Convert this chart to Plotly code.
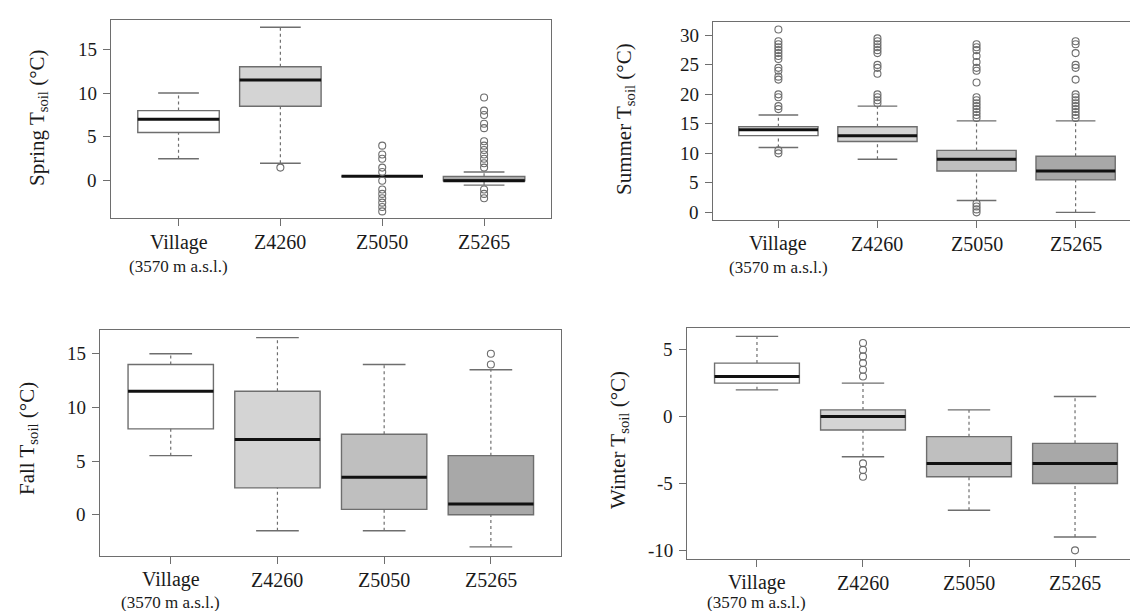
import plotly.graph_objects as go

W, H = 1138, 611
categories = ["Village", "Z4260", "Z5050", "Z5265"]
fills = ["#ffffff", "#d4d4d4", "#bfbfbf", "#a8a8a8"]

# ---- Spring ----
spring_lower = [2.5, 2.0, 0.5, -0.5]
spring_q1 = [5.5, 8.5, 0.5, 0.0]
spring_median = [7.0, 11.5, 0.5, 0.0]
spring_q3 = [8.0, 13.0, 0.5, 0.5]
spring_upper = [10.0, 17.5, 0.5, 1.0]
spring_outliers = [
    [],
    [1.5],
    [4, 3, 2.5, 1.5, 1, 0, -1, -1.5, -2, -2.5, -3, -3.5],
    [9.5, 8, 7.5, 6.5, 6, 4.5, 4, 3.5, 3, 2.5, 2, 1.5, -1, -1.5, -2],
]
spring_ticks = [0, 5, 10, 15]

# ---- Summer ----
summer_lower = [11.0, 9.0, 2.0, 0.0]
summer_q1 = [13.0, 12.0, 7.0, 5.5]
summer_median = [14.0, 13.0, 9.0, 7.0]
summer_q3 = [14.5, 14.5, 10.5, 9.5]
summer_upper = [16.5, 18.0, 15.5, 15.5]
summer_outliers = [
    [31, 29, 28.5, 28, 27.5, 27, 26.5, 26, 24.5, 24, 23, 22.5, 20, 19.5, 18, 17.5, 10.5, 10],
    [29.5, 29, 28.5, 28, 27.5, 27, 25, 24.5, 23.5, 20, 19.5, 19, 18.5],
    [28.5, 28, 27.5, 26.5, 25.5, 24.5, 24, 22, 19.5, 19, 18.5, 18, 17.5, 17, 16.5, 16, 1.5, 1, 0.5, 0],
    [29, 28.5, 27, 25, 24.5, 22.5, 20, 19.5, 19, 18.5, 18, 17.5, 17, 16.5, 16],
]
summer_ticks = [0, 5, 10, 15, 20, 25, 30]

# ---- Fall ----
fall_lower = [5.5, -1.5, -1.5, -3.0]
fall_q1 = [8.0, 2.5, 0.5, 0.0]
fall_median = [11.5, 7.0, 3.5, 1.0]
fall_q3 = [14.0, 11.5, 7.5, 5.5]
fall_upper = [15.0, 16.5, 14.0, 13.5]
fall_outliers = [[], [], [], [15, 14]]
fall_ticks = [0, 5, 10, 15]

# ---- Winter ----
winter_lower = [2.0, -3.0, -7.0, -9.0]
winter_q1 = [2.5, -1.0, -4.5, -5.0]
winter_median = [3.0, 0.0, -3.5, -3.5]
winter_q3 = [4.0, 0.5, -1.5, -2.0]
winter_upper = [6.0, 2.5, 0.5, 1.5]
winter_outliers = [[], [5.5, 5, 4.5, 4, 3.5, 3, -3.5, -4, -4.5], [], [-10]]
winter_ticks = [-10, -5, 0, 5]

village_note = "(3570 m a.s.l.)"

FONT = "'Times New Roman', 'Liberation Serif', serif"
LINE = "#6e6e6e"
TXT = "#1a1a1a"

panels = [
    dict(name="Spring", lo=spring_lower, q1=spring_q1, med=spring_median, q3=spring_q3, up=spring_upper,
         out=spring_outliers, ticks=spring_ticks, yr=[-4.25, 18.3],
         px=(103.3, 543.3), py=(12.3, 210.0), tx=30, ty=110),
    dict(name="Summer", lo=summer_lower, q1=summer_q1, med=summer_median, q3=summer_q3, up=summer_upper,
         out=summer_outliers, ticks=summer_ticks, yr=[-1.25, 32.27],
         px=(705.0, 1133.0), py=(14.0, 211.7), tx=617, ty=111),
    dict(name="Fall", lo=fall_lower, q1=fall_q1, med=fall_median, q3=fall_q3, up=fall_upper,
         out=fall_outliers, ticks=fall_ticks, yr=[-3.82, 17.18],
         px=(92.3, 553.3), py=(322.3, 547.7), tx=20, ty=431),
    dict(name="Winter", lo=winter_lower, q1=winter_q1, med=winter_median, q3=winter_q3, up=winter_upper,
         out=winter_outliers, ticks=winter_ticks, yr=[-10.625, 6.625],
         px=(679.0, 1137.0), py=(320.0, 550.7), tx=611, ty=432),
]

fig = go.Figure()
annotations = []

for k, p in enumerate(panels):
    idx = "" if k == 0 else str(k + 1)
    xa, ya = "x" + idx, "y" + idx
    xs = list(range(len(categories)))
    for i, c in enumerate(categories):
        fig.add_trace(go.Box(
            x=[i], q1=[p["q1"][i]], median=[p["med"][i]], q3=[p["q3"][i]],
            lowerfence=[p["q1"][i]], upperfence=[p["q3"][i]],
            width=0.8, whiskerwidth=0, fillcolor=fills[i],
            line=dict(color=LINE, width=1.4), boxpoints=False,
            xaxis=xa, yaxis=ya, showlegend=False, hoverinfo="skip"))
        fig.add_trace(go.Scatter(
            x=[i, i, None, i, i], y=[p["lo"][i], p["q1"][i], None, p["q3"][i], p["up"][i]],
            mode="lines", line=dict(color=LINE, width=1.2, dash="dot"),
            xaxis=xa, yaxis=ya, showlegend=False, hoverinfo="skip"))
        fig.add_trace(go.Scatter(
            x=[i - 0.2, i + 0.2, None, i - 0.2, i + 0.2],
            y=[p["lo"][i], p["lo"][i], None, p["up"][i], p["up"][i]],
            mode="lines", line=dict(color=LINE, width=1.4),
            xaxis=xa, yaxis=ya, showlegend=False, hoverinfo="skip"))
        fig.add_trace(go.Scatter(
            x=[i - 0.4, i + 0.4], y=[p["med"][i], p["med"][i]],
            mode="lines", line=dict(color="#111111", width=3),
            xaxis=xa, yaxis=ya, showlegend=False, hoverinfo="skip"))
        if p["out"][i]:
            fig.add_trace(go.Scatter(
                x=[i] * len(p["out"][i]), y=p["out"][i], mode="markers",
                marker=dict(symbol="circle-open", size=7, color=LINE, line=dict(width=1.1)),
                xaxis=xa, yaxis=ya, showlegend=False, hoverinfo="skip"))

    x0, x1 = p["px"]
    y0, y1 = p["py"]
    fig.update_layout({
        "xaxis" + idx: dict(
            domain=[x0 / W, x1 / W], anchor=ya, range=[-0.66, 3.66],
            tickmode="array", tickvals=xs, showticklabels=False,
            ticks="outside", ticklen=7, tickcolor=LINE, tickwidth=1.2,
            showline=True, linecolor=LINE, linewidth=1.4, mirror=True,
            showgrid=False, zeroline=False),
        "yaxis" + idx: dict(
            domain=[1 - y1 / H, 1 - y0 / H], anchor=xa, range=p["yr"],
            tickmode="array", tickvals=p["ticks"], showticklabels=False,
            ticks="outside", ticklen=7, tickcolor=LINE, tickwidth=1.2,
            showline=True, linecolor=LINE, linewidth=1.4, mirror=True,
            showgrid=False, zeroline=False),
    })
    for i, c in enumerate(categories):
        annotations.append(dict(
            text=c, x=i, xref=xa, y=1 - (y1 + 24) / H, yref="paper",
            xanchor="center", yanchor="middle", showarrow=False,
            font=dict(family=FONT, size=20, color=TXT)))
    for v in p["ticks"]:
        annotations.append(dict(
            text=str(v), x=(x0 - 12) / W, xref="paper", y=v, yref=ya,
            xanchor="right", yanchor="middle", showarrow=False,
            font=dict(family=FONT, size=19, color=TXT)))
    annotations.append(dict(
        text=p["name"] + " T<sub>soil</sub> (°C)", textangle=-90,
        x=p["tx"] / W, y=1 - p["ty"] / H, xref="paper", yref="paper",
        xanchor="center", yanchor="middle", showarrow=False,
        font=dict(family=FONT, size=21, color=TXT)))
    annotations.append(dict(
        text=village_note, x=0, xref=xa, y=1 - min(y1 + 48, 594) / H, yref="paper",
        xanchor="center", yanchor="middle", showarrow=False,
        font=dict(family=FONT, size=17, color=TXT)))

fig.update_layout(
    width=W, height=H, margin=dict(l=0, r=0, t=0, b=0),
    paper_bgcolor="white", plot_bgcolor="white",
    template="none", font=dict(family=FONT),
    annotations=annotations)

fig.write_html("out.html")
